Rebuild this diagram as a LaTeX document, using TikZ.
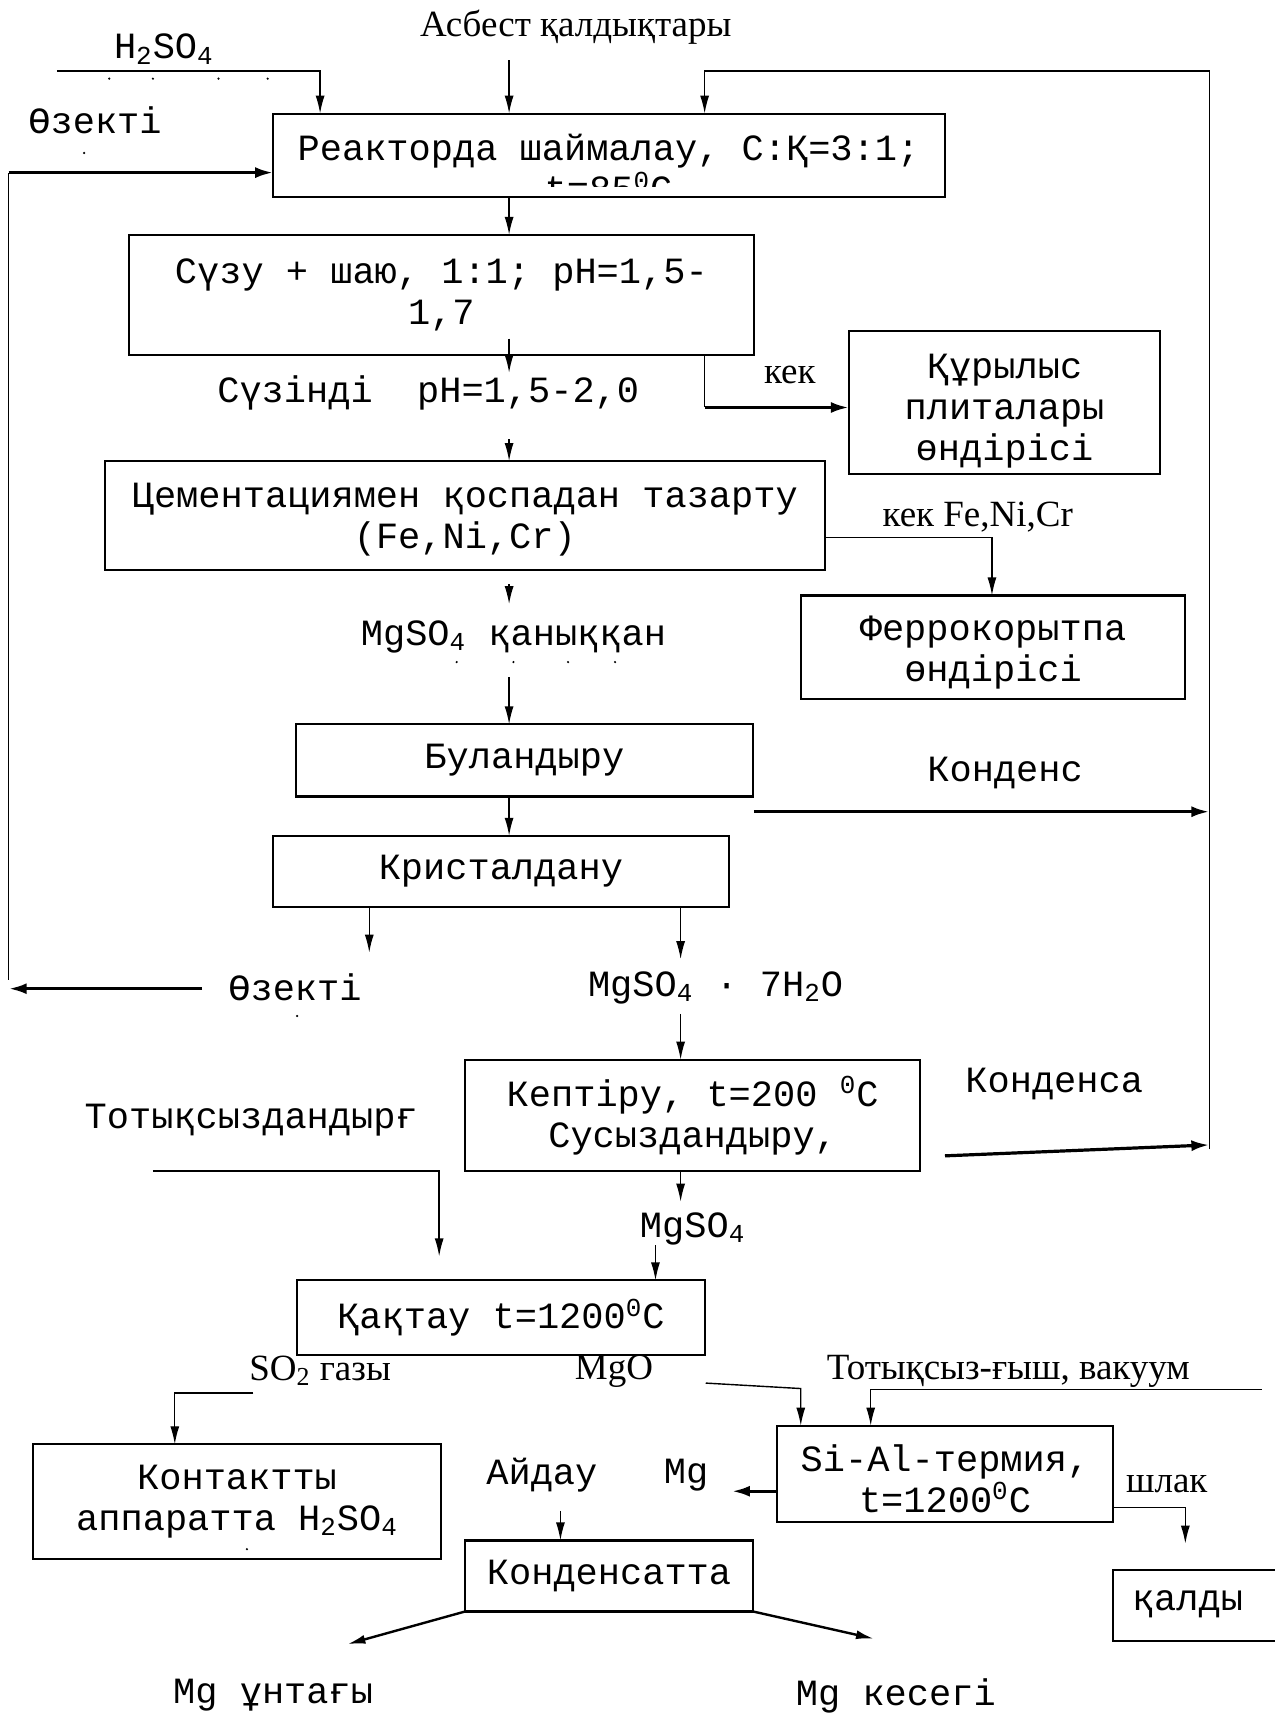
\documentclass[tikz,border=0pt]{standalone}
\usepackage{fontspec}
\setmainfont{Liberation Serif}
\newfontfamily\monof{Liberation Mono}
\usetikzlibrary{arrows.meta,calc}
\newcommand\mystrut[1]{\rule{0pt}{#1pt}}
\begin{document}
\begin{tikzpicture}[x=0.54625pt,y=-0.54625pt,
  every node/.style={inner sep=0pt,outer sep=0pt},
  box/.style={draw,line width=1.1pt,rectangle,font=\monof\fontsize{18.5}{20.5}\selectfont,align=center},
  sz/.style 2 args={minimum width={#1*0.54625pt},minimum height={#2*0.54625pt}},
  mono/.style={font=\monof\fontsize{18.5}{20.5}\selectfont,align=center},
  ser/.style={font=\fontsize{18.5}{20.5}\selectfont},
  ln/.style={line width=0.7pt},
  arr/.style={-{Latex[length=9pt,width=4.5pt]},line width=0.7pt},
  tarr/.style={-{Latex[length=9pt,width=5.5pt]},line width=1.6pt},
  dot/.style={fill=black},
]
\useasboundingbox (0,0) rectangle (1167,1568);

% x helper coordinates
\coordinate (x160) at (160,0);
\coordinate (x293) at (293,0);
\coordinate (x338) at (338,0);
\coordinate (x466) at (466,0);
\coordinate (x513) at (513,0);
\coordinate (x600) at (600,0);
\coordinate (x623) at (623,0);
\coordinate (x645) at (645,0);
\coordinate (x733) at (733,0);
\coordinate (x797) at (797,0);
\coordinate (x908) at (908,0);
\coordinate (x1085) at (1085,0);

% boxes
\node[box,sz={615}{76}] (b1) at (557.5,142) {};
\begin{scope}
  \clip (b1.north west) rectangle ($(b1.south east)+(0,-9)$);
  \node[mono] (b1t) at (557,154) {Реакторда шаймалау, С:Қ=3:1;\\t=85\textsuperscript{0}C};
\end{scope}
\node[box,sz={572}{110}] (b2) at (404,270) {Сүзу + шаю, 1:1; pH=1,5-\\1,7};
\node[box,sz={285}{131}] (b4) at (919.5,368.5) {\mystrut{20.6}Құрылыс\\плиталары\\өндірісі};
\node[box,sz={659}{100}] (b3) at (425.5,472) {\mystrut{16.3}Цементациямен қоспадан тазарту\\(Fe,Ni,Cr)};
\node[box,sz={352}{95}] (b5) at (909,592.5) {\mystrut{17.4}Феррокорытпа\\өндірісі};
\node[box,sz={418}{66}] (b6) at (480,696) {Буландыру};
\node[box,sz={417}{65}] (b7) at (458.5,797.5) {Кристалдану};
\node[box,sz={416}{102}] (b8) at (634,1021) {Кептіру, t=200 \textsuperscript{0}C\\Сусыздандыру,};
\node[box,sz={373}{68}] (b9) at (458.5,1206) {Қақтау t=1200\textsuperscript{0}C};
\node[box,sz={374}{105}] (b10) at (217,1374.5) {Контактты\\аппаратта H\textsubscript{2}SO\textsubscript{4}};
\node[box,sz={308}{88}] (b11) at (865,1349) {\mystrut{18}Si-Al-термия,\\t=1200\textsuperscript{0}C};
\node[box,sz={263}{65}] (b12) at (557.5,1442.5) {Конденсатта};
\node[box,sz={176}{65}] (b13) at (1107,1469.5) {};
\node[mono] (qaldy) at (1087,1468) {қалды};

% labels
\node[ser] (asb) at (527,25) {Асбест қалдықтары};
\node[mono] (h2so4) at (150,45) {H\textsubscript{2}SO\textsubscript{4}};
\node[mono] (oz1) at (87,110) {Өзекті};
\node[mono] (suz) at (392,360) {Сүзінді\ \ pH=1,5-2,0};
\node[ser] (kek) at (723,343) {кек};
\node[ser] (kekfe) at (895,473) {кек Fe,Ni,Cr};
\node[mono] (mgsat) at (470,583) {MgSO\textsubscript{4} қаныққан};
\node[mono] (kond1) at (920,708) {Конденс};
\node[mono] (oz2) at (270,904) {Өзекті};
\node[mono] (mg7) at (655,904) {MgSO\textsubscript{4} · 7H\textsubscript{2}O};
\node[mono] (kond2) at (965,992) {Конденса};
\node[mono] (toty) at (230,1025) {Тотықсыздандырғ};
\node[mono] (mgso4) at (634,1125) {MgSO\textsubscript{4}};
\node[ser] (so2) at (293,1255) {SO\textsubscript{2} газы};
\node[ser] (mgo) at (562,1255) {MgO};
\node[ser] (toty2) at (923,1255) {Тотықсыз-ғыш, вакуум};
\node[mono] (mg) at (628,1350) {Mg};
\node[mono] (aid) at (496,1350) {Айдау};
\node[ser] (shlak) at (1068,1358) {шлак};
\node[mono] (mgun) at (250,1552) {Mg ұнтағы};
\node[mono] (mgkes) at (820,1552) {Mg кесегі};

% small dots
\foreach \p in {(100,72),(140,72),(200,72),(245,72),(77,140),(418,606),(470,606),(520,606),(563,606),(272,930),(226,1418)}
  \fill[dot] \p circle (1.1);

% free-end coordinates
\coordinate (asbA) at (466,55);
\coordinate (hsA) at (52,65);
\coordinate (rTop) at (1107,65);
\coordinate (rBot) at (1107,1052);
\coordinate (lTop) at (8,158);
\coordinate (lBot) at (8,897);
\coordinate (c310) at (466,310);
\coordinate (c402) at (466,402);
\coordinate (kekA) at (645,373);
\coordinate (c535) at (466,535);
\coordinate (c620) at (466,620);
\coordinate (kd1A) at (690,743);
\coordinate (kd1B) at (1107,743);
\coordinate (oz2A) at (185,905);
\coordinate (oz2B) at (8,905);
\coordinate (c928) at (623,928);
\coordinate (kd2A) at (865,1058);
\coordinate (kd2B) at (1107,1048);
\coordinate (totA) at (140,1072);
\coordinate (totB) at (402,1150);
\coordinate (c1140) at (600,1140);
\coordinate (so2A) at (232,1275);
\coordinate (mgoA) at (646,1266);
\coordinate (mgoB) at (733,1271);
\coordinate (tt2A) at (1155,1272);
\coordinate (mgB) at (670,1365);
\coordinate (c1383) at (513,1383);
\coordinate (unB) at (318,1505);
\coordinate (kesB) at (800,1500);

% connectors
\draw[arr] (asbA) -- (asbA |- b1.north);
\draw[arr] (hsA) -| (x293 |- b1.north);
\draw[arr] (rBot) -- (rTop) -| (x645 |- b1.north);
\draw[ln] (lBot) -- (lTop);
\draw[tarr] (lTop) -- (lTop -| b1.west);
\draw[arr] (x466 |- b1.south) -- (x466 |- b2.north);
\draw[arr] (c310) -- ($(x466 |- suz.north)+(0,-3)$);
\draw[arr] (c402) -- (x466 |- b3.north);
\draw[ln] (x645 |- b2.south) -- (kekA);
\draw[tarr] (kekA) -- (kekA -| b4.west);
\draw[arr] (b3.east |- 0,492) -| (x908 |- b5.north);
\draw[arr] (c535) -- (466,553);
\draw[arr] (c620) -- (x466 |- b6.north);
\draw[arr] (x466 |- b6.south) -- (x466 |- b7.north);
\draw[tarr] (kd1A) -- (kd1B);
\draw[arr] (x338 |- b7.south) -- (338,872);
\draw[arr] (x623 |- b7.south) -- (623,878);
\draw[tarr] (oz2A) -- (oz2B);
\draw[arr] (c928) -- (x623 |- b8.north);
\draw[tarr] (kd2A) -- (kd2B);
\draw[arr] (totA) -| (totB);
\draw[arr] (x623 |- b8.south) -- (623,1100);
\draw[arr] (c1140) -- (x600 |- b9.north);
\draw[arr] (so2A) -| (x160 |- b10.north);
\draw[arr] (mgoA) -- (mgoB) -- (x733 |- b11.north);
\draw[arr] (tt2A) -| (x797 |- b11.north);
\draw[tarr] (b11.west |- mgB) -- (mgB);
\draw[arr] (c1383) -- (x513 |- b12.north);
\draw[arr] (b11.east |- 0,1380) -| (x1085 |- 0,1413);
\draw[arr,line width=1.2pt] (b12.south west) -- (unB);
\draw[arr,line width=1.2pt] (b12.south east) -- (kesB);
\end{tikzpicture}
\end{document}
